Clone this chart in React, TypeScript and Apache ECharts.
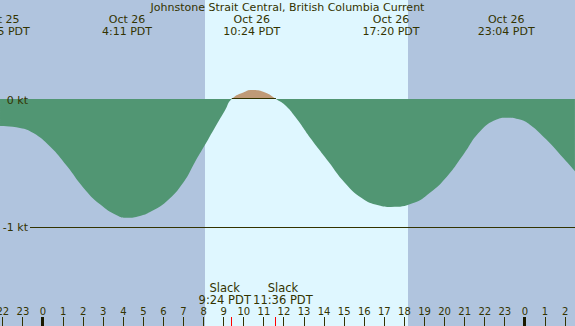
import React, { useEffect, useRef } from "react";
import * as echarts from "echarts";

const chartTitle = "Johnstone Strait Central, British Columbia Current";

// current curve, hours from Oct 26 00:00 PDT and knots
const curveHours = [
  -2.14, -1.15, -0.48, 0.35, 1.18, 2.01, 2.84, 3.67, 4.18, 4.83, 5.33, 6.16, 6.99, 7.57, 8.07,
  8.57, 9.06, 9.4, 10.06, 10.4, 11.06, 11.6, 12.05, 12.55, 13.38, 14.21, 15.04, 15.87,
  16.7, 17.33, 18.44, 19.27, 20.1, 20.93, 21.76, 22.59, 23.07, 23.75, 24.25, 25.08, 25.91, 26.49,
];
const curveKnots = [
  -0.21, -0.225, -0.265, -0.37, -0.52, -0.69, -0.82, -0.905, -0.925, -0.91, -0.88, -0.795, -0.65, -0.49, -0.357,
  -0.22, -0.09, 0, 0.057, 0.07, 0.05, 0, -0.047, -0.137, -0.318, -0.486, -0.653, -0.77,
  -0.827, -0.84, -0.81, -0.73, -0.607, -0.434, -0.253, -0.16, -0.145, -0.16, -0.2, -0.318, -0.46, -0.563,
];

const eventHours = [-2.08, 4.183, 10.4, 17.333, 23.067];
const eventDates = ["Oct 25", "Oct 26", "Oct 26", "Oct 26", "Oct 26"];
const eventTimes = ["21:55 PDT", "4:11 PDT", "10:24 PDT", "17:20 PDT", "23:04 PDT"];

const slackHours = [9.4, 11.6];
const slackTimes = ["9:24 PDT", "11:36 PDT"];
const slackLabelShift = [-7, 7];

const daylight = [[8.07, 18.18]];

const hourTicks = [-2, -1, 0, 1, 2, 3, 4, 5, 6, 7, 8, 9, 10, 11, 12, 13, 14, 15, 16, 17, 18, 19, 20, 21, 22, 23, 24, 25, 26];

const levelValues = [0, -1];
const levelLabels = ["0 kt", "-1 kt"];

const X_MIN = -2.141;
const X_MAX = 26.494;
const Y_MAX = 99 / 128.5;
const Y_MIN = -227 / 128.5;

const NIGHT = "#B0C4DE";
const DAY = "#DFF7FF";
const EBB = "#519673";
const FLOOD = "#BF9A77";
const INK = "#333300";
const FONT = '11px "DejaVu Sans"';
const SLACK_FONT = '11.5px "DejaVu Sans"';
const HOUR_FONT = '10px "DejaVu Sans"';

export default function App() {
  const ref = useRef<HTMLDivElement>(null);
  useEffect(() => {
    if (!ref.current) return;
    const chart = echarts.init(ref.current, undefined, { renderer: "svg" });
    const W = 575;
    const H = 326;
    const txt = (x: number, y: number, text: string, font: string, align = "center") => ({
      type: "text",
      x,
      y,
      style: { text, fill: INK, font, align, verticalAlign: "middle", lineHeight: 11 },
    });
    const option: any = {
      animation: false,
      backgroundColor: NIGHT,
      title: {
        text: chartTitle,
        left: "center",
        top: 0,
        padding: [1, 0, 0, 0],
        textStyle: { fontSize: 11, fontWeight: "normal", color: INK, fontFamily: "DejaVu Sans", lineHeight: 12 },
      },
      grid: { left: 0, right: 0, top: 0, bottom: 0 },
      xAxis: { type: "value", min: X_MIN, max: X_MAX, show: false },
      yAxis: { type: "value", min: Y_MIN, max: Y_MAX, show: false },
      series: [
        {
          type: "custom",
          z: 1,
          silent: true,
          data: daylight,
          renderItem: (_p: any, api: any) => {
            const x1 = Math.round(api.coord([api.value(0), 0])[0]);
            const x2 = Math.round(api.coord([api.value(1), 0])[0]);
            return { type: "rect", shape: { x: x1, y: 0, width: x2 - x1, height: H }, style: { fill: DAY } };
          },
        },
        {
          id: "current",
          type: "line",
          z: 2,
          silent: true,
          data: curveHours.map((h, i) => [h, curveKnots[i]]),
          smooth: 0.5,
          symbol: "none",
          lineStyle: { width: 0 },
          areaStyle: { opacity: 1, origin: 0, color: EBB },
        },
        {
          // zero line under flood
          type: "custom",
          z: 3,
          silent: true,
          data: [[slackHours[0], slackHours[1]]],
          renderItem: (_p: any, api: any) => {
            const a = api.coord([api.value(0), 0]);
            const b = api.coord([api.value(1), 0]);
            const y = Math.round(a[1]) - 0.5;
            return { type: "line", shape: { x1: a[0], y1: y, x2: b[0], y2: y }, style: { stroke: INK, lineWidth: 1 } };
          },
        },
        {
          // level labels and -1 line
          type: "custom",
          z: 4,
          silent: true,
          data: levelValues.map((v, i) => [X_MIN, v, i]),
          renderItem: (_p: any, api: any) => {
            const v = api.value(1);
            const i = api.value(2);
            const y = api.coord([0, v])[1];
            const children: any[] = [txt(28, v === 0 ? y + 1 : y, levelLabels[i], FONT, "right")];
            if (v !== 0) {
              const ly = Math.floor(y) + 0.5;
              children.push({ type: "line", shape: { x1: 30, y1: ly, x2: W, y2: ly }, style: { stroke: INK, lineWidth: 1 } });
            }
            return { type: "group", children };
          },
        },
        {
          // top event labels
          type: "custom",
          z: 4,
          silent: true,
          data: eventHours.map((h, i) => [h, 0, i]),
          renderItem: (_p: any, api: any) => {
            const i = api.value(2);
            const x = api.coord([api.value(0), 0])[0];
            return {
              type: "group",
              children: [txt(x, 19, eventDates[i], FONT), txt(x, 31, eventTimes[i], FONT)],
            };
          },
        },
        {
          // hour ticks
          type: "custom",
          z: 4,
          silent: true,
          data: hourTicks.map((h) => [h, 0]),
          renderItem: (_p: any, api: any) => {
            const h = api.value(0);
            const x = api.coord([h, 0])[0];
            const lab = ((h % 24) + 24) % 24;
            const mid = lab === 0;
            const rx = Math.round(x - 0.5);
            return {
              type: "group",
              children: [
                {
                  type: "rect",
                  shape: { x: mid ? rx - 1 : rx, y: 317, width: mid ? 3 : 1, height: H - 317 },
                  style: { fill: mid ? "#1a1a00" : INK },
                },
                txt(x, 311, String(lab), HOUR_FONT),
              ],
            };
          },
        },
        {
          // slack marks
          type: "custom",
          z: 5,
          silent: true,
          data: slackHours.map((h, i) => [h, 0, i]),
          renderItem: (_p: any, api: any) => {
            const i = api.value(2);
            const x = api.coord([api.value(0), 0])[0];
            const rx = Math.round(x - 0.5);
            const lx = x + slackLabelShift[i];
            return {
              type: "group",
              children: [
                { type: "rect", shape: { x: rx, y: 317, width: 1, height: H - 317 }, style: { fill: "#ff0000" } },
                txt(lx, 287.5, "Slack", SLACK_FONT),
                txt(lx, 299.5, slackTimes[i], SLACK_FONT),
              ],
            };
          },
        },
      ],
    };
    chart.setOption(option);
    // split the fill colour at the zero line, located through the chart's own scale
    const zeroY = chart.convertToPixel({ gridIndex: 0 }, [0, 0])[1];
    const f = zeroY / H;
    chart.setOption({
      series: [
        {
          id: "current",
          areaStyle: {
            color: new echarts.graphic.LinearGradient(
              0, 0, 0, H,
              [
                { offset: 0, color: FLOOD },
                { offset: f, color: FLOOD },
                { offset: f, color: EBB },
                { offset: 1, color: EBB },
              ],
              true
            ),
          },
        },
      ],
    });
    return () => chart.dispose();
  }, []);
  return <div ref={ref} style={{ position: "fixed", left: 0, top: 0, width: 575, height: 326 }} />;
}
